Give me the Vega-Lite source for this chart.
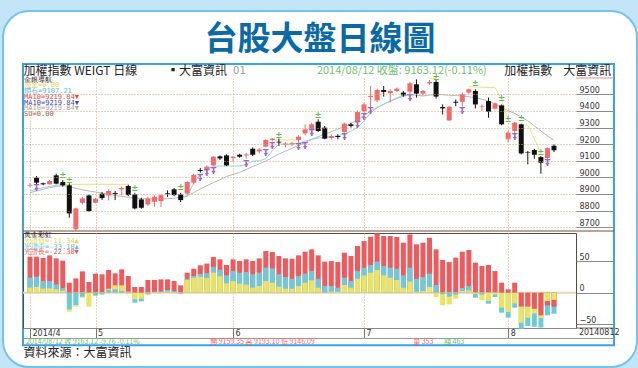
{
"$schema": "https://vega.github.io/schema/vega-lite/v6.json",
"background": "#c4e5f8",
"padding": {"left": 1, "top": 9, "right": 0, "bottom": 0},
"bounds": "flush",
"spacing": 2,
"title": {"text": "台股大盤日線圖", "frame": "bounds", "anchor": "middle", "offset": -47, "fontSize": 33, "fontWeight": "bold", "font": "Noto Sans CJK TC", "color": "#0b6aa6"},
"config": {"font": "DejaVu Sans", "view": {"stroke": null}, "scale": {"continuousPadding": 0}, "axis": {"labelOverlap": false, "labelSeparation": 0}},
"datasets": {
"k": [
{"i":0,"o":8950,"h":8965,"l":8940,"c":8955,"ma":8908},
{"i":1,"o":8998,"h":9008,"l":8958,"c":8968,"ma":8918},
{"i":2,"o":8964,"h":8968,"l":8952,"c":8958,"ma":8928},
{"i":3,"o":8958,"h":8984,"l":8956,"c":8978,"ma":8938},
{"i":4,"o":9012,"h":9022,"l":8958,"c":8962,"ma":8945},
{"i":5,"o":8972,"h":8984,"l":8944,"c":8952,"ma":8950},
{"i":6,"o":8952,"h":8964,"l":8757,"c":8783,"ma":8944},
{"i":7,"o":8687,"h":8817,"l":8677,"c":8813,"ma":8934},
{"i":8,"o":8847,"h":8883,"l":8837,"c":8873,"ma":8925},
{"i":9,"o":8891,"h":8897,"l":8793,"c":8797,"ma":8918},
{"i":10,"o":8847,"h":8877,"l":8843,"c":8871,"ma":8912},
{"i":11,"o":8901,"h":8912,"l":8863,"c":8875,"ma":8905},
{"i":12,"o":8891,"h":8928,"l":8861,"c":8918,"ma":8898},
{"i":13,"o":8906,"h":8918,"l":8863,"c":8900,"ma":8891},
{"i":14,"o":8928,"h":8944,"l":8891,"c":8936,"ma":8885},
{"i":15,"o":8948,"h":8956,"l":8887,"c":8893,"ma":8880},
{"i":16,"o":8897,"h":8907,"l":8807,"c":8813,"ma":8876},
{"i":17,"o":8867,"h":8877,"l":8811,"c":8817,"ma":8872},
{"i":18,"o":8837,"h":8883,"l":8827,"c":8873,"ma":8870},
{"i":19,"o":8853,"h":8891,"l":8823,"c":8883,"ma":8870},
{"i":20,"o":8857,"h":8897,"l":8821,"c":8893,"ma":8870},
{"i":21,"o":8904,"h":8922,"l":8881,"c":8898,"ma":8871},
{"i":22,"o":8928,"h":8936,"l":8887,"c":8893,"ma":8874},
{"i":23,"o":8897,"h":8907,"l":8851,"c":8863,"ma":8880},
{"i":24,"o":8903,"h":8976,"l":8895,"c":8972,"ma":8890},
{"i":25,"o":8968,"h":9022,"l":8958,"c":9014,"ma":8908},
{"i":26,"o":9044,"h":9056,"l":9028,"c":9038,"ma":8930},
{"i":27,"o":9048,"h":9072,"l":9028,"c":9064,"ma":8950},
{"i":28,"o":9072,"h":9128,"l":9068,"c":9124,"ma":8968},
{"i":29,"o":9126,"h":9132,"l":9104,"c":9114,"ma":8985},
{"i":30,"o":9132,"h":9138,"l":9068,"c":9072,"ma":9005},
{"i":31,"o":9116,"h":9128,"l":9092,"c":9124,"ma":9018},
{"i":32,"o":9136,"h":9142,"l":9118,"c":9124,"ma":9030},
{"i":33,"o":9132,"h":9148,"l":9112,"c":9138,"ma":9048},
{"i":34,"o":9172,"h":9180,"l":9128,"c":9136,"ma":9065},
{"i":35,"o":9156,"h":9174,"l":9144,"c":9168,"ma":9082},
{"i":36,"o":9185,"h":9229,"l":9181,"c":9225,"ma":9098},
{"i":37,"o":9225,"h":9237,"l":9219,"c":9233,"ma":9120},
{"i":38,"o":9215,"h":9233,"l":9189,"c":9209,"ma":9140},
{"i":39,"o":9197,"h":9213,"l":9179,"c":9203,"ma":9158},
{"i":40,"o":9199,"h":9213,"l":9189,"c":9205,"ma":9175},
{"i":41,"o":9225,"h":9253,"l":9209,"c":9245,"ma":9192},
{"i":42,"o":9265,"h":9319,"l":9253,"c":9289,"ma":9210},
{"i":43,"o":9289,"h":9329,"l":9279,"c":9319,"ma":9228},
{"i":44,"o":9335,"h":9349,"l":9273,"c":9279,"ma":9245},
{"i":45,"o":9299,"h":9309,"l":9229,"c":9233,"ma":9260},
{"i":46,"o":9237,"h":9259,"l":9229,"c":9249,"ma":9275},
{"i":47,"o":9249,"h":9259,"l":9229,"c":9243,"ma":9290},
{"i":48,"o":9273,"h":9329,"l":9269,"c":9323,"ma":9305},
{"i":49,"o":9319,"h":9329,"l":9299,"c":9309,"ma":9325},
{"i":50,"o":9339,"h":9403,"l":9329,"c":9393,"ma":9345},
{"i":51,"o":9399,"h":9449,"l":9389,"c":9439,"ma":9372},
{"i":52,"o":9484,"h":9550,"l":9420,"c":9490,"ma":9400},
{"i":53,"o":9463,"h":9534,"l":9453,"c":9526,"ma":9420},
{"i":54,"o":9526,"h":9550,"l":9486,"c":9514,"ma":9440},
{"i":55,"o":9506,"h":9530,"l":9450,"c":9520,"ma":9458},
{"i":56,"o":9520,"h":9540,"l":9514,"c":9534,"ma":9475},
{"i":57,"o":9510,"h":9520,"l":9486,"c":9494,"ma":9488},
{"i":58,"o":9516,"h":9574,"l":9486,"c":9566,"ma":9498},
{"i":59,"o":9560,"h":9590,"l":9480,"c":9504,"ma":9494},
{"i":60,"o":9504,"h":9526,"l":9494,"c":9520,"ma":9490},
{"i":61,"o":9566,"h":9586,"l":9558,"c":9574,"ma":9495},
{"i":62,"o":9574,"h":9586,"l":9474,"c":9486,"ma":9500},
{"i":63,"o":9423,"h":9439,"l":9379,"c":9415,"ma":9497},
{"i":64,"o":9343,"h":9429,"l":9339,"c":9425,"ma":9494},
{"i":65,"o":9455,"h":9469,"l":9429,"c":9449,"ma":9492},
{"i":66,"o":9455,"h":9510,"l":9425,"c":9500,"ma":9490},
{"i":67,"o":9510,"h":9534,"l":9500,"c":9530,"ma":9485},
{"i":68,"o":9520,"h":9530,"l":9415,"c":9439,"ma":9480},
{"i":69,"o":9423,"h":9439,"l":9399,"c":9427,"ma":9470},
{"i":70,"o":9459,"h":9480,"l":9359,"c":9395,"ma":9460},
{"i":71,"o":9413,"h":9449,"l":9409,"c":9445,"ma":9442},
{"i":72,"o":9433,"h":9439,"l":9313,"c":9319,"ma":9420},
{"i":73,"o":9229,"h":9279,"l":9209,"c":9269,"ma":9402},
{"i":74,"o":9279,"h":9333,"l":9239,"c":9329,"ma":9385},
{"i":75,"o":9319,"h":9323,"l":9138,"c":9144,"ma":9362},
{"i":76,"o":9153,"h":9158,"l":9078,"c":9149,"ma":9340},
{"i":77,"o":9164,"h":9172,"l":9112,"c":9136,"ma":9310},
{"i":78,"o":9122,"h":9128,"l":9022,"c":9088,"ma":9280},
{"i":79,"o":9116,"h":9180,"l":9112,"c":9176,"ma":9250},
{"i":80,"o":9190,"h":9199,"l":9152,"c":9163,"ma":9222}
],
"cy": [
{"i":0,"v":8918,"g":1},{"i":1,"v":8928,"g":1},{"i":2,"v":8938,"g":1},{"i":3,"v":8946,"g":1},{"i":4,"v":8952,"g":1},{"i":5,"v":8958,"g":1},
{"i":23,"v":8880,"g":2},{"i":24,"v":8885,"g":2},{"i":25,"v":8965,"g":2},{"i":26,"v":9018,"g":2},{"i":27,"v":9050,"g":2},{"i":28,"v":9066,"g":2},{"i":29,"v":9068,"g":2},{"i":30,"v":9068,"g":2},{"i":31,"v":9068,"g":2},{"i":32,"v":9068,"g":2},{"i":33,"v":9078,"g":2},{"i":34,"v":9098,"g":2},{"i":35,"v":9100,"g":2},{"i":36,"v":9112,"g":2},{"i":37,"v":9160,"g":2},{"i":38,"v":9200,"g":2},{"i":39,"v":9200,"g":2},{"i":40,"v":9200,"g":2},{"i":41,"v":9205,"g":2},{"i":42,"v":9218,"g":2},{"i":43,"v":9228,"g":2},{"i":44,"v":9237,"g":2},{"i":45,"v":9240,"g":2},{"i":46,"v":9245,"g":2},{"i":47,"v":9250,"g":2},{"i":48,"v":9262,"g":2},{"i":49,"v":9278,"g":2},{"i":50,"v":9300,"g":2},{"i":51,"v":9340,"g":2},{"i":52,"v":9388,"g":2},{"i":53,"v":9420,"g":2},{"i":54,"v":9440,"g":2},{"i":55,"v":9460,"g":2},{"i":56,"v":9478,"g":2},{"i":57,"v":9494,"g":2},{"i":58,"v":9500,"g":2}
],
"yl": [
{"i":5,"v":8958,"g":1},{"i":15,"v":8958,"g":1},
{"i":37,"v":9225,"g":2},{"i":41,"v":9225,"g":2},
{"i":61,"v":9596,"g":3},{"i":62,"v":9596,"g":3},
{"i":67,"v":9545,"g":4},{"i":71,"v":9540,"g":4},{"i":72,"v":9470,"g":4},{"i":73,"v":9345,"g":4},
{"i":75,"v":9320,"g":5},{"i":76,"v":9315,"g":5},{"i":78,"v":9145,"g":5}
],
"mp": [
{"i":1,"p":8928},{"i":26,"p":8988},{"i":27,"p":9018},{"i":28,"p":9034},{"i":33,"p":9074},{"i":36,"p":9140},{"i":37,"p":9183},{"i":41,"p":9179},{"i":42,"p":9185},{"i":43,"p":9263},{"i":48,"p":9237},{"i":50,"p":9309},{"i":51,"p":9357},{"i":52,"p":9393},{"i":58,"p":9470},{"i":66,"p":9395},{"i":74,"p":9235},{"i":79,"p":9078}
],
"mg": [
{"i":5,"p":9008},{"i":6,"p":8978},{"i":16,"p":8928},{"i":23,"p":8938},{"i":38,"p":9249},{"i":44,"p":9369},{"i":62,"p":9597},{"i":68,"p":9560},{"i":72,"p":9470},{"i":73,"p":9343},{"i":75,"p":9349},{"i":78,"p":9148}
],
"osc": [
{"i":0,"s":7.9,"m":23.7,"l":56.9},{"i":1,"s":9,"m":25.3,"l":56.9},{"i":2,"s":6.3,"m":18.4,"l":54.8},{"i":3,"s":6.8,"m":18.4,"l":59},{"i":4,"s":5.3,"m":13.2,"l":54.2},{"i":5,"s":3.2,"m":7.4,"l":50.6},{"i":6,"s":-30,"m":-26.3,"l":15.8},{"i":7,"s":-22,"m":-19.5,"l":22.6},{"i":8,"s":-7.9,"m":-6.3,"l":33.7},{"i":9,"s":-22,"m":-0.5,"l":16.9},
{"i":10,"s":-5.3,"m":-4.2,"l":30},{"i":11,"s":-1,"m":-3,"l":29},{"i":12,"s":6.3,"m":4.5,"l":35.8},{"i":13,"s":11.6,"m":5.3,"l":30.5},{"i":14,"s":11.6,"m":2.6,"l":36.9},{"i":15,"s":1.6,"m":-1,"l":26.3},{"i":16,"s":-10.5,"m":-15.8,"l":9},{"i":17,"s":-9.5,"m":-13.7,"l":9},{"i":18,"s":-1,"m":-3,"l":20},{"i":19,"s":1,"m":1.6,"l":20},
{"i":20,"s":1,"m":2,"l":21},{"i":21,"s":1.6,"m":4.2,"l":21},{"i":22,"s":1,"m":2.6,"l":18.4},{"i":23,"s":-0.5,"m":-1.6,"l":11.6},{"i":24,"s":20,"m":22,"l":31.6},{"i":25,"s":23.7,"m":26.3,"l":37.9},{"i":26,"s":25.3,"m":29.5,"l":43.2},{"i":27,"s":23,"m":30.8,"l":46},{"i":28,"s":31.6,"m":40.8,"l":56.3},{"i":29,"s":25.8,"m":36.3,"l":52.7},
{"i":30,"s":14.7,"m":27.4,"l":43.7},{"i":31,"s":18.4,"m":34.2,"l":52.7},{"i":32,"s":14.2,"m":31.6,"l":50},{"i":33,"s":12.6,"m":32.7,"l":52.7},{"i":34,"s":7.9,"m":29,"l":50},{"i":35,"s":10.5,"m":31.6,"l":54.2},{"i":36,"s":18.4,"m":39.5,"l":65.8},{"i":37,"s":15.8,"m":38.4,"l":64.2},{"i":38,"s":9.5,"m":29,"l":57.9},{"i":39,"s":6.3,"m":24.7,"l":54.2},
{"i":40,"s":6.3,"m":22,"l":53.7},{"i":41,"s":10.5,"m":26.3,"l":59},{"i":42,"s":15.8,"m":30,"l":64.8},{"i":43,"s":19.5,"m":34.2,"l":68.5},{"i":44,"s":7.9,"m":22,"l":59},{"i":45,"s":-0.8,"m":10.5,"l":49},{"i":46,"s":1.6,"m":10.5,"l":50},{"i":47,"s":1.6,"m":7.9,"l":48.4},{"i":48,"s":12.1,"m":23.7,"l":63.2},{"i":49,"s":7.9,"m":18.4,"l":57.9},
{"i":50,"s":22,"m":34.2,"l":73.7},{"i":51,"s":27.4,"m":39.5,"l":81.6},{"i":52,"s":31.6,"m":43.7,"l":88.5},{"i":53,"s":35.8,"m":49,"l":93.7},{"i":54,"s":27.4,"m":42,"l":89.5},{"i":55,"s":23.7,"m":39.5,"l":89.5},{"i":56,"s":20,"m":37.9,"l":88},{"i":57,"s":7.9,"m":27.4,"l":79},{"i":58,"s":17.4,"m":39.5,"l":92},{"i":59,"s":1.6,"m":22,"l":76.4},
{"i":60,"s":2.6,"m":24.7,"l":79},{"i":61,"s":9,"m":30,"l":86.9},{"i":62,"s":-6.8,"m":12.1,"l":68.5},{"i":63,"s":-20,"m":-2.6,"l":51.6},{"i":64,"s":-18.4,"m":-6.3,"l":48.4},{"i":65,"s":-9.5,"m":-3.2,"l":55.3},{"i":66,"s":2.6,"m":7.4,"l":64.8},{"i":67,"s":3.7,"m":10.5,"l":67.4},{"i":68,"s":-2,"m":-7.9,"l":47.4},{"i":69,"s":-11.6,"m":-3,"l":42.1},
{"i":70,"s":-13.2,"m":-17.4,"l":43.7},{"i":71,"s":-3,"m":-6.8,"l":34.2},{"i":72,"s":-23.7,"m":-31.6,"l":15.8},{"i":73,"s":-30.5,"m":-39.5,"l":5.3},{"i":74,"s":-16.9,"m":-23.7,"l":15.8},{"i":75,"s":-47.4,"m":-57,"l":-22},{"i":76,"s":-39.5,"m":-52.7,"l":-22},{"i":77,"s":-32.7,"m":-53.7,"l":-25.3},{"i":78,"s":-40,"m":-55,"l":-35.8},{"i":79,"s":-13.2,"m":-35.8,"l":-20},
{"i":80,"s":-11.34,"m":-33.18,"l":-22.3}
]
},
"vconcat": [
{
"width": 553, "height": 153,
"view": {"stroke": "#e28c8c"},
"layer": [
{"data": {"values": [{}]},
 "mark": {"type": "rect", "fill": "white", "stroke": "#72c4ef", "strokeWidth": 2, "cornerRadius": 26},
 "encoding": {
  "x": {"datum": -4.12, "type": "quantitative", "scale": {"domain": [-1.07, 83.36], "nice": false, "zero": false, "padding": 0},
        "axis": {"values": [0, 10, 31, 51, 73], "tickCount": 20, "labels": false, "ticks": false, "domain": false, "title": null, "grid": true, "gridColor": "#d9a27a", "gridDash": [1, 2], "gridOpacity": 1, "zindex": 1}},
  "x2": {"datum": 92.67},
  "y": {"datum": 10001, "type": "quantitative", "scale": {"domain": [8677, 9598], "nice": false, "zero": false, "padding": 0},
        "axis": {"orient": "right", "values": [8700, 8800, 8900, 9000, 9100, 9200, 9300, 9400, 9500], "tickCount": 20, "format": "d", "labelOverlap": false, "labelBound": false, "labelFlush": false, "title": null, "domain": false, "grid": true, "gridColor": "#d9a27a", "gridDash": [1, 2], "gridOpacity": 1, "tickSize": 38, "tickColor": "#8a8a8a", "labelPadding": -35, "labelAlign": "left", "labelBaseline": "bottom", "labelFontSize": 8, "labelColor": "#333", "zindex": 1}},
  "y2": {"datum": 7858}
 }},
{"data": {"values": [{}]},
 "mark": {"type": "rect", "fill": null, "stroke": "#3aa3e3", "strokeWidth": 2},
 "encoding": {"x": {"datum": -1.07}, "x2": {"datum": 89.16}, "y": {"datum": 9682}, "y2": {"datum": 7990}}},
{"data": {"values": [{}]},
 "mark": {"type": "rule", "color": "#e28c8c"},
 "encoding": {"x": {"datum": 83.36}, "x2": {"datum": 89.16}, "y": {"datum": 9598}}},
{"data": {"values": [{}]},
 "mark": {"type": "rule", "color": "#7a4a3a"},
 "encoding": {"x": {"datum": -1.07}, "x2": {"datum": 89.16}, "y": {"datum": 8677}}},
{"data": {"name": "k"},
 "mark": {"type": "line", "color": "#b9b9b9", "strokeWidth": 1},
 "encoding": {"x": {"field": "i", "type": "quantitative"}, "y": {"field": "ma", "type": "quantitative"}}},
{"data": {"name": "cy"},
 "mark": {"type": "line", "color": "#8fd6e6", "strokeWidth": 1},
 "encoding": {"x": {"field": "i", "type": "quantitative"}, "y": {"field": "v", "type": "quantitative"}, "detail": {"field": "g"}}},
{"data": {"name": "yl"},
 "mark": {"type": "line", "color": "#eee27a", "strokeWidth": 1},
 "encoding": {"x": {"field": "i", "type": "quantitative"}, "y": {"field": "v", "type": "quantitative"}, "detail": {"field": "g"}}},
{"data": {"name": "k"},
 "mark": {"type": "rule", "strokeWidth": 1},
 "encoding": {"x": {"field": "i", "type": "quantitative"}, "y": {"field": "l", "type": "quantitative"}, "y2": {"field": "h"},
  "color": {"condition": {"test": "datum.c >= datum.o", "value": "#f06a6a"}, "value": "#111111"}}},
{"data": {"name": "k"},
 "mark": {"type": "bar", "size": 5},
 "encoding": {"x": {"field": "i", "type": "quantitative"}, "y": {"field": "o", "type": "quantitative"}, "y2": {"field": "c"},
  "color": {"condition": {"test": "datum.c >= datum.o", "value": "#f26b6b"}, "value": "#111111"}}},
{"data": {"name": "mp"},
 "mark": {"type": "text", "text": "Ŧ", "color": "#9d62c8", "fontSize": 8, "fontWeight": "bold"},
 "encoding": {"x": {"field": "i", "type": "quantitative"}, "y": {"field": "p", "type": "quantitative"}}},
{"data": {"name": "mg"},
 "mark": {"type": "text", "text": "±", "color": "#62b84a", "fontSize": 8, "fontWeight": "bold"},
 "encoding": {"x": {"field": "i", "type": "quantitative"}, "y": {"field": "p", "type": "quantitative"}}},
{"data": {"values": [{}]}, "mark": {"type": "text", "text": "金銀導航", "align": "left", "baseline": "middle", "font": "DejaVu Sans Mono", "fontSize": 7, "color": "#222"}, "encoding": {"x": {"datum": -0.9}, "y": {"datum": 9586}}},
{"data": {"values": [{}]}, "mark": {"type": "text", "text": "黃金=0.00", "align": "left", "baseline": "middle", "font": "DejaVu Sans Mono", "fontSize": 7, "color": "#e2d45a"}, "encoding": {"x": {"datum": -0.9}, "y": {"datum": 9553}}},
{"data": {"values": [{}]}, "mark": {"type": "text", "text": "鑽石=9107.21", "align": "left", "baseline": "middle", "font": "DejaVu Sans Mono", "fontSize": 7, "color": "#5cb9d3"}, "encoding": {"x": {"datum": -0.9}, "y": {"datum": 9519}}},
{"data": {"values": [{}]}, "mark": {"type": "text", "text": "MA10=9219.84▼", "align": "left", "baseline": "middle", "font": "DejaVu Sans Mono", "fontSize": 7, "color": "#e84848"}, "encoding": {"x": {"datum": -0.9}, "y": {"datum": 9484}}},
{"data": {"values": [{}]}, "mark": {"type": "text", "text": "MA10=9219.84▼", "align": "left", "baseline": "middle", "font": "DejaVu Sans Mono", "fontSize": 7, "color": "#3a4aa8"}, "encoding": {"x": {"datum": -0.9}, "y": {"datum": 9449}}},
{"data": {"values": [{}]}, "mark": {"type": "text", "text": "MA10=9219.84▼", "align": "left", "baseline": "middle", "font": "DejaVu Sans Mono", "fontSize": 7, "color": "#a8a8a8"}, "encoding": {"x": {"datum": -0.9}, "y": {"datum": 9415}}},
{"data": {"values": [{}]}, "mark": {"type": "text", "text": "SU=0.00", "align": "left", "baseline": "middle", "font": "DejaVu Sans Mono", "fontSize": 7, "color": "#a0603a"}, "encoding": {"x": {"datum": -0.9}, "y": {"datum": 9380}}},
{"data": {"values": [{}]}, "mark": {"type": "text", "text": "加權指數 WEIGT 日線", "align": "left", "baseline": "middle", "font": "Noto Sans CJK TC", "fontSize": 12, "color": "#222"}, "encoding": {"x": {"datum": -1.0}, "y": {"datum": 9641}}},
{"data": {"values": [{}]}, "mark": {"type": "text", "text": "▪大富資訊", "align": "left", "baseline": "middle", "font": "Noto Sans CJK TC", "fontSize": 12, "color": "#222"}, "encoding": {"x": {"datum": 20.9}, "y": {"datum": 9641}}},
{"data": {"values": [{}]}, "mark": {"type": "text", "text": "01", "align": "left", "baseline": "middle", "fontSize": 10, "color": "#9a9a9a"}, "encoding": {"x": {"datum": 31.0}, "y": {"datum": 9641}}},
{"data": {"values": [{}]}, "mark": {"type": "text", "text": "2014/08/12 收盤: 9163.12(-0.11%)", "align": "left", "baseline": "middle", "font": "Noto Sans CJK TC", "fontSize": 11, "color": "#72bf72"}, "encoding": {"x": {"datum": 43.8}, "y": {"datum": 9641}}},
{"data": {"values": [{}]}, "mark": {"type": "text", "text": "加權指數", "align": "left", "baseline": "middle", "font": "Noto Sans CJK TC", "fontSize": 12, "color": "#222"}, "encoding": {"x": {"datum": 72.4}, "y": {"datum": 9641}}},
{"data": {"values": [{}]}, "mark": {"type": "text", "text": "大富資訊", "align": "left", "baseline": "middle", "font": "Noto Sans CJK TC", "fontSize": 12, "color": "#222"}, "encoding": {"x": {"datum": 81.4}, "y": {"datum": 9641}}}
]
},
{
"width": 553, "height": 95,
"view": {"stroke": "#5a4a44"},
"layer": [
{"data": {"values": [{}]},
 "mark": {"type": "rule", "color": "#e8d6bc", "strokeWidth": 2},
 "encoding": {
  "x": {"datum": -1.07, "type": "quantitative", "scale": {"domain": [-1.07, 83.36], "nice": false, "zero": false, "padding": 0},
        "axis": {"values": [0, 10, 31, 51, 73], "tickCount": 20, "labelExpr": "datum.value == 0 ? '2014/4' : datum.value == 10 ? '5' : datum.value == 31 ? '6' : datum.value == 51 ? '7' : '8'",
                 "labelAlign": "left", "labelBaseline": "top", "labelOffset": 2, "labelPadding": -9, "labelFontSize": 8, "labelColor": "#333", "labelOverlap": false, "labelFlush": false, "labelBound": false,
                 "tickSize": 10, "tickColor": "#777", "domainColor": "#888",
                 "grid": true, "gridColor": "#d9a27a", "gridDash": [1, 2], "gridOpacity": 1,
                 "title": "資料來源：大富資訊", "titleAnchor": "start", "titleAlign": "left", "titleBaseline": "top", "titleFont": "Noto Sans CJK TC", "titleFontSize": 12, "titleFontWeight": "normal", "titleColor": "#222", "titlePadding": 9}},
  "x2": {"datum": 83.36},
  "y": {"datum": 0, "type": "quantitative", "scale": {"domain": [-55.8, 94.3], "nice": false, "zero": false, "padding": 0},
        "axis": {"orient": "right", "values": [-50, 0, 50], "tickCount": 10, "labelOverlap": false, "title": null, "domain": false, "grid": false, "tickSize": 38, "tickColor": "#8a8a8a", "labelPadding": -35, "labelAlign": "left", "labelBaseline": "bottom", "labelFontSize": 8, "labelColor": "#333"}}
 }},
{"data": {"name": "osc"},
 "transform": [{"fold": ["s", "m", "l"], "as": ["k", "v"]}, {"calculate": "abs(datum.v)", "as": "mag"}],
 "mark": {"type": "bar", "size": 5},
 "encoding": {"x": {"field": "i", "type": "quantitative"}, "y": {"field": "v", "type": "quantitative", "stack": null},
  "color": {"field": "k", "type": "nominal", "scale": {"domain": ["s", "m", "l"], "range": ["#ece35e", "#6dcad9", "#f05a5d"]}, "legend": null},
  "order": {"field": "mag", "type": "quantitative", "sort": "descending"}}},
{"data": {"values": [{}]}, "mark": {"type": "text", "text": "黃金彩虹", "align": "left", "baseline": "middle", "font": "DejaVu Sans Mono", "fontSize": 7, "color": "#222"}, "encoding": {"x": {"datum": -0.9}, "y": {"datum": 90.7}}},
{"data": {"values": [{}]}, "mark": {"type": "text", "text": "光譜短=-11.34▲", "align": "left", "baseline": "middle", "font": "DejaVu Sans Mono", "fontSize": 7, "color": "#e2d44c"}, "encoding": {"x": {"datum": -0.9}, "y": {"datum": 81.7}}},
{"data": {"values": [{}]}, "mark": {"type": "text", "text": "光譜中=-33.18▲", "align": "left", "baseline": "middle", "font": "DejaVu Sans Mono", "fontSize": 7, "color": "#5cc0d4"}, "encoding": {"x": {"datum": -0.9}, "y": {"datum": 72.7}}},
{"data": {"values": [{}]}, "mark": {"type": "text", "text": "光譜長=-22.30▼", "align": "left", "baseline": "middle", "font": "DejaVu Sans Mono", "fontSize": 7, "color": "#ef5454"}, "encoding": {"x": {"datum": -0.9}, "y": {"datum": 64.8}}},
{"data": {"values": [{}]}, "mark": {"type": "rule", "color": "#777"}, "encoding": {"x": {"datum": 83.36}, "x2": {"datum": 89.16}, "y": {"datum": -55.8}}},
{"data": {"values": [{}]}, "mark": {"type": "rule", "color": "#999"}, "encoding": {"x": {"datum": -1.07}, "x2": {"datum": 89.16}, "y": {"datum": -72.4}}},
{"data": {"values": [{}]}, "mark": {"type": "text", "text": "20140812", "align": "left", "baseline": "middle", "fontSize": 8, "color": "#333"}, "encoding": {"x": {"datum": 83.8}, "y": {"datum": -63}}},
{"data": {"values": [{}]}, "mark": {"type": "text", "text": "2014/08/12  收 9163.12  -9.76  -0.11%", "align": "left", "baseline": "middle", "font": "Noto Sans CJK TC", "fontSize": 7, "color": "#6cbf6c"}, "encoding": {"x": {"datum": -0.6}, "y": {"datum": -78}}},
{"data": {"values": [{}]}, "mark": {"type": "text", "text": "開 9159.35 高 9193.10 低 9146.09", "align": "left", "baseline": "middle", "font": "Noto Sans CJK TC", "fontSize": 7, "color": "#ee6a6a"}, "encoding": {"x": {"datum": 27.5}, "y": {"datum": -78}}},
{"data": {"values": [{}]}, "mark": {"type": "text", "text": "量 353", "align": "left", "baseline": "middle", "font": "Noto Sans CJK TC", "fontSize": 7, "color": "#ee6a6a"}, "encoding": {"x": {"datum": 58.5}, "y": {"datum": -78}}},
{"data": {"values": [{}]}, "mark": {"type": "text", "text": "額 463", "align": "left", "baseline": "middle", "font": "Noto Sans CJK TC", "fontSize": 7, "color": "#6cbf6c"}, "encoding": {"x": {"datum": 63.2}, "y": {"datum": -78}}}
]
}
]
}
